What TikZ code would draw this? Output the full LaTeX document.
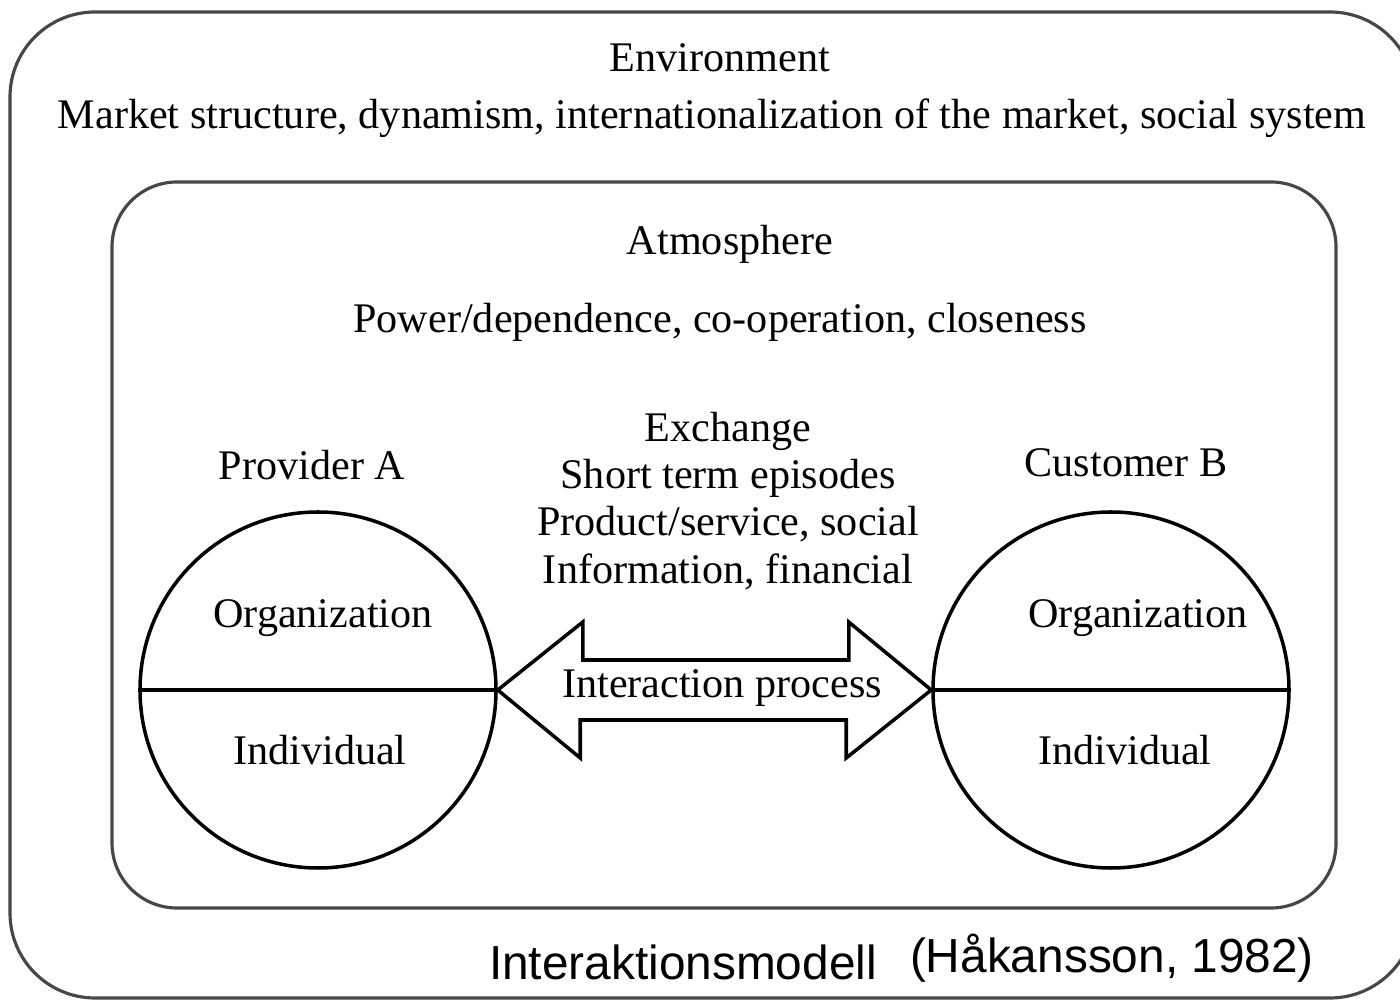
\documentclass[tikz,border=0pt]{standalone}
\usepackage{fontspec}
\setmainfont{Liberation Serif}
\setsansfont{Liberation Sans}
\begin{document}
\begin{tikzpicture}[
    boxline/.style={draw=black!72, line width=0.9pt},
    halfcircle/.style={draw, circle, line width=1pt, minimum size=3.56cm, inner sep=0pt},
    lbl/.style={font=\fontsize{12}{13.4}\selectfont, inner sep=0pt, align=center},
    capt/.style={font=\sffamily\fontsize{13.6}{15}\selectfont, inner sep=0pt}]
    \useasboundingbox (0,0) rectangle (14,-10);
    \clip (0,0) rectangle (14,-10);

    % Frames
    \draw[boxline, rounded corners=0.85cm] (0.10,-0.12) rectangle (14.15,-9.98);
    \draw[boxline, rounded corners=0.65cm] (1.12,-1.82) rectangle (13.36,-9.08);

    % Environment and atmosphere
    \node[lbl] (env) at (7.20,-0.58) {Environment};
    \node[lbl] (envtext) at (7.12,-1.18) {Market structure, dynamism, internationalization of the market, social system};
    \node[lbl] (atmo) at (7.30,-2.44) {Atmosphere};
    \node[lbl] (atmotext) at (7.20,-3.22) {Power/dependence, co-operation, closeness};

    % Parties
    \node[halfcircle] (provA) at (3.18,-6.90) {};
    \node[halfcircle] (custB) at (11.11,-6.90) {};
    \draw[line width=1pt] (provA.west) -- (provA.east);
    \draw[line width=1pt] (custB.west) -- (custB.east);
    \node[lbl] (provlabel) at (3.12,-4.65) {Provider A};
    \node[lbl] (custlabel) at (11.26,-4.63) {Customer B};
    \node[lbl] (provorg) at (3.23,-6.18) {Organization};
    \node[lbl] (provind) at (3.20,-7.50) {Individual};
    \node[lbl] (custorg) at (11.38,-6.18) {Organization};
    \node[lbl] (custind) at (11.25,-7.50) {Individual};

    % Exchange
    \node[lbl] (exch) at (7.28,-5.01) {Exchange\\Short term episodes\\Product/service, social\\Information, financial};

    % Interaction arrow
    \draw[line width=1pt, line join=miter] (provA.east) -- ++(0.85,0.68) -- ++(0,-0.38) -- ++(2.66,0) -- ++(0,0.38)
        -- (custB.west) -- ++(-0.85,-0.68) -- ++(0,0.38) -- ++(-2.66,0) -- ++(0,-0.38) -- cycle;
    \node[lbl] (inter) at (7.22,-6.88) {Interaction process};

    % Caption
    \node[capt] (model) at (6.83,-9.62) {Interaktionsmodell};
    \node[capt] (source) at (11.12,-9.58) {(Håkansson, 1982)};
\end{tikzpicture}
\end{document}
